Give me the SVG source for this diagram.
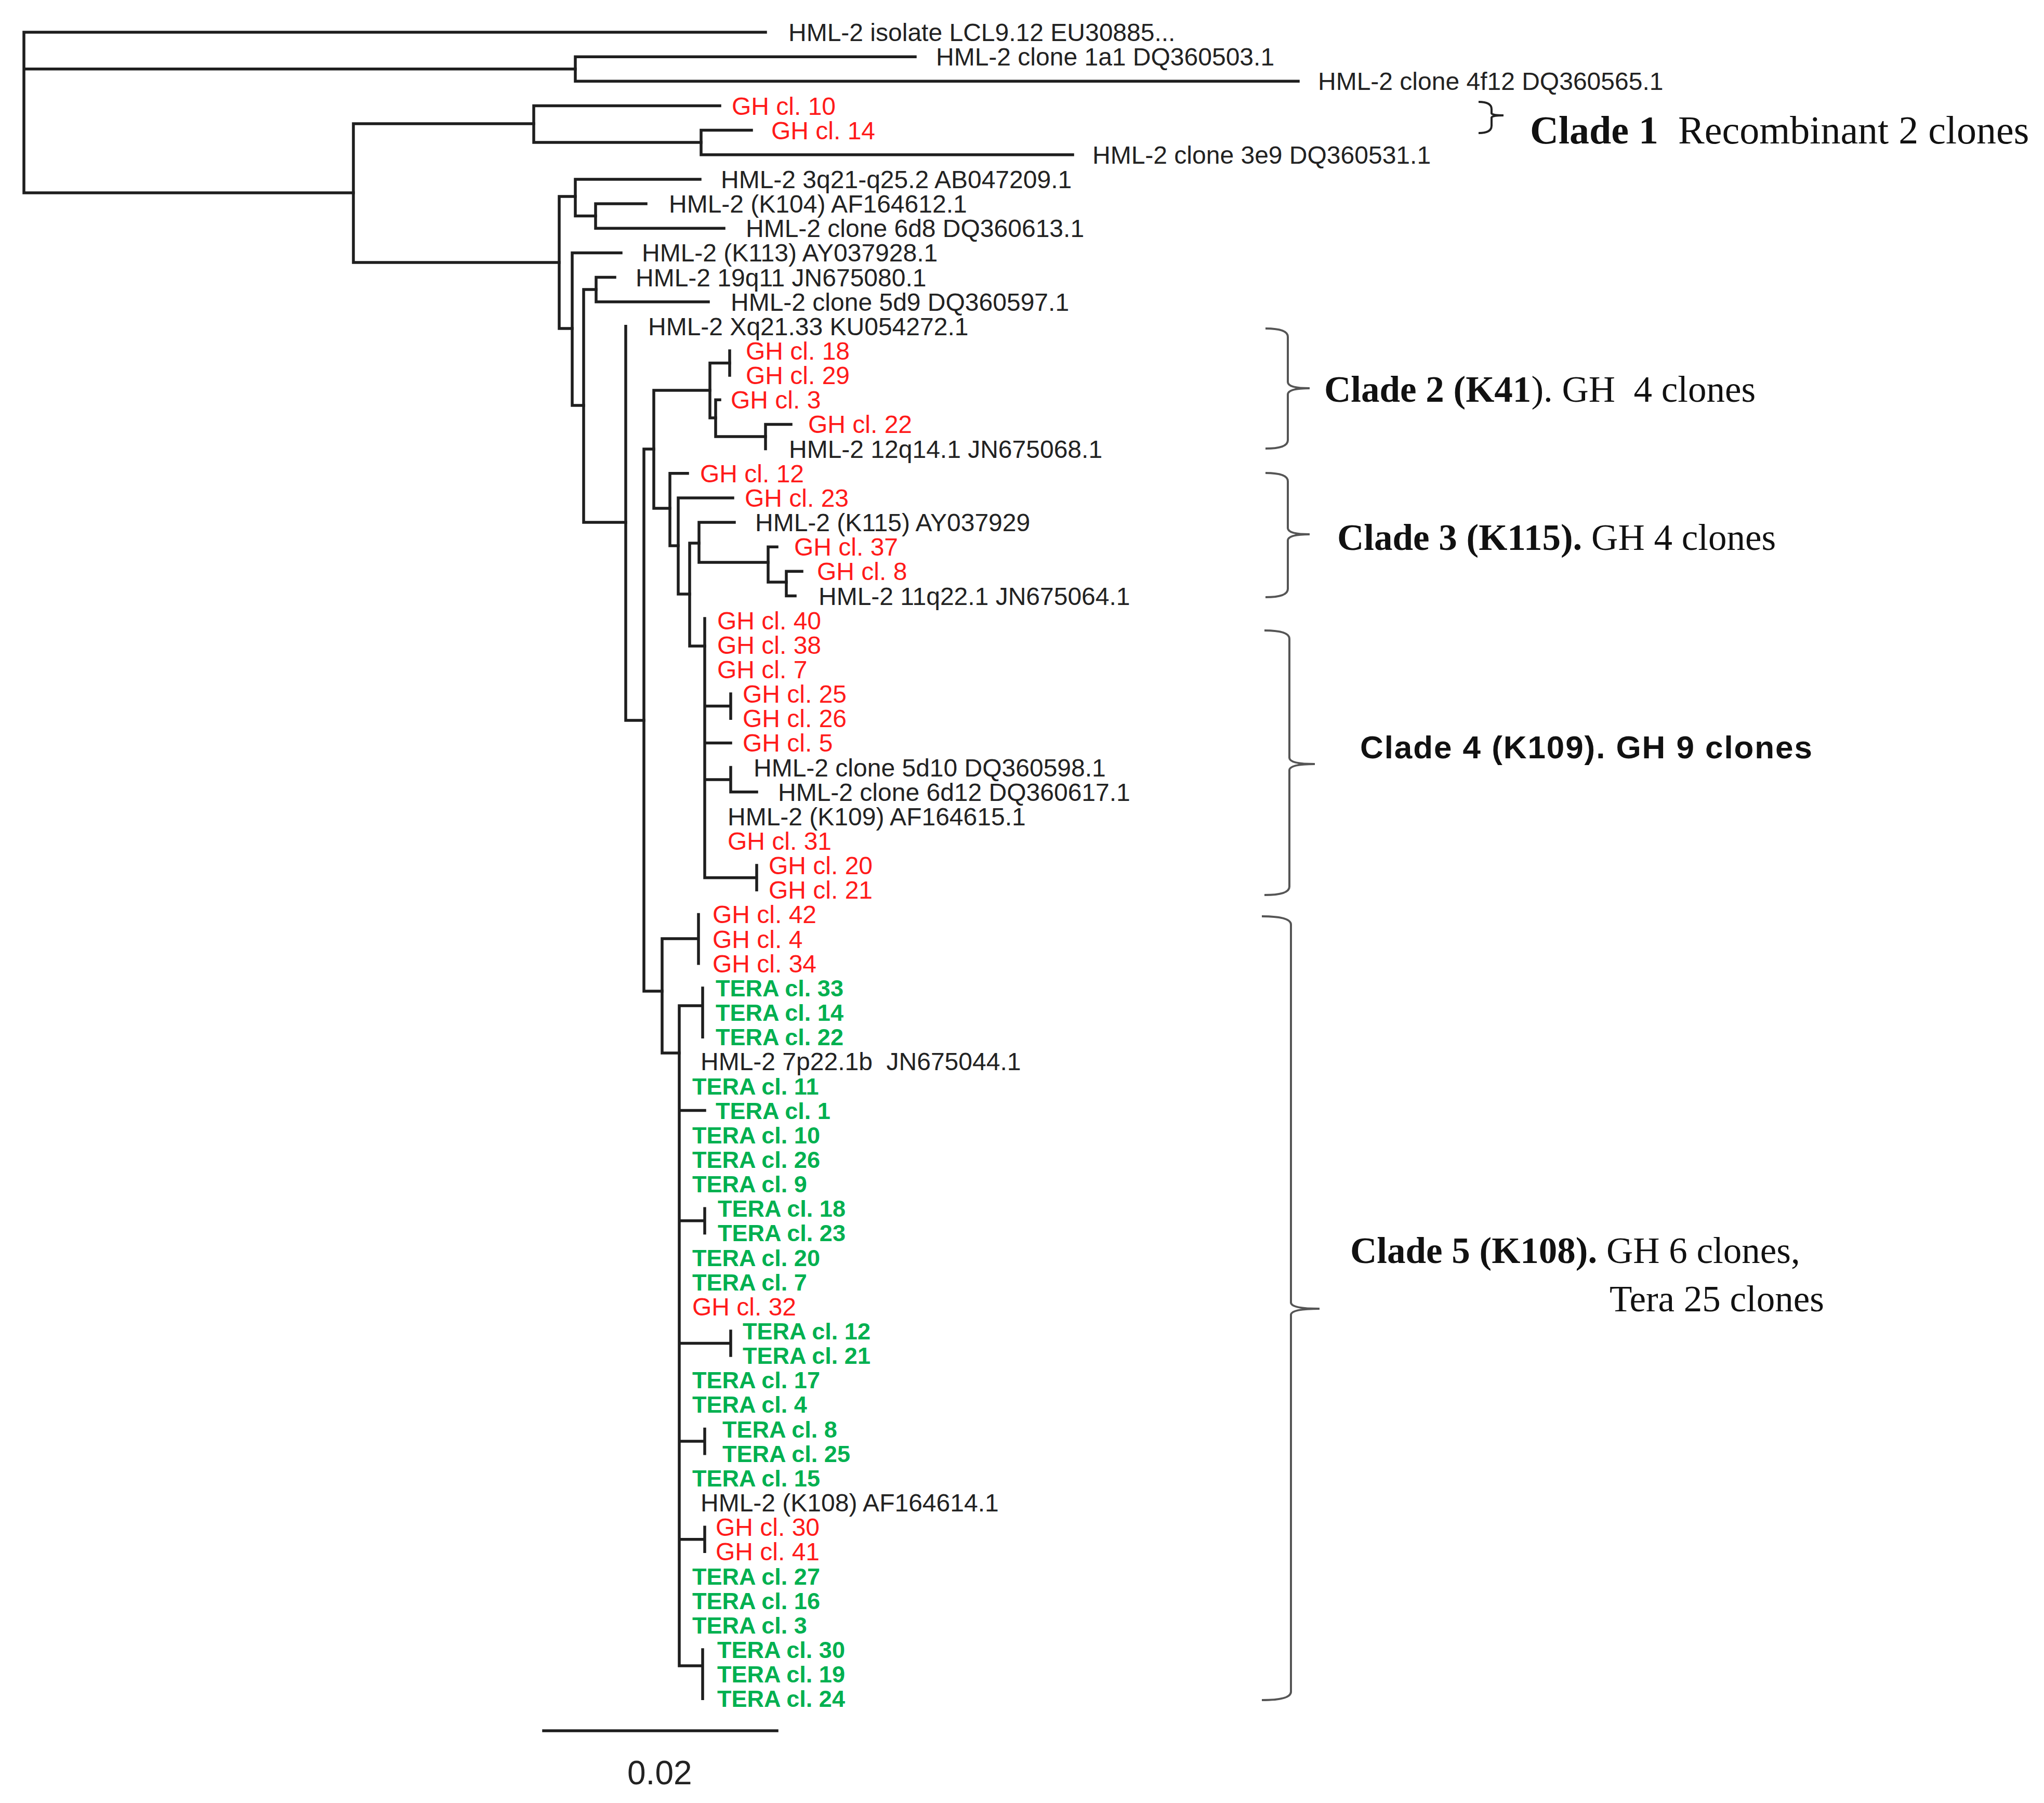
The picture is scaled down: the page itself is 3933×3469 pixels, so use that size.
<svg xmlns="http://www.w3.org/2000/svg" width="3933" height="3469" viewBox="0 0 3933 3469">
<style>
.t{fill:none;stroke:#1e1e1e;stroke-width:5.5;stroke-linecap:square}
.br{fill:none;stroke:#555;stroke-width:4}
.k{font-family:"Liberation Sans",Arial,sans-serif;font-size:48px;fill:#222}
.r{font-family:"Liberation Sans",Arial,sans-serif;font-size:48px;fill:#ff1a1a}
.g{font-family:"Liberation Sans",Arial,sans-serif;font-size:45px;font-weight:bold;fill:#00b050}
.c{font-family:"Liberation Serif","Times New Roman",serif;font-size:71px;fill:#111}
.b{font-weight:bold}
</style>
<rect width="3933" height="3469" fill="#fff"/>
<g id="connectors" class="t">
<path d="M46 62V371M46 62H1473M46 132.7H1107M46 371H680"/>
<path d="M1107 109.2V156.3M1107 109.2H1761M1107 156.3H2498"/>
<path d="M680 238V505M680 238H1027M680 505H1076"/>
<path d="M1027 203.5V274M1027 203.5H1385M1027 274H1349"/>
<path d="M1349 250.6V297.8M1349 250.6H1446M1349 297.8H2064"/>
<path d="M1076 378V632M1076 378H1107M1076 632H1101"/>
<path d="M1107 344.9V415.6M1107 344.9H1347M1107 415.6H1146"/>
<path d="M1146 392.1V439.2M1146 392.1H1243M1146 439.2H1393"/>
<path d="M1101 486.4V780M1101 486.4H1195M1101 780H1123"/>
<path d="M1123 557V1005M1123 557H1147M1123 1005H1204"/>
<path d="M1147 533.5V580.7M1147 533.5H1183M1147 580.7H1363"/>
<path d="M1204 627.8V1386M1204 1386H1239"/>
<path d="M1239 864V1907M1239 864H1258M1239 1907H1274"/>
<path d="M1258 751V978M1258 751H1366M1258 978H1289"/>
<path d="M1366 698.5V804M1366 698.5H1404M1366 804H1377"/>
<path d="M1404 675V722.1"/>
<path d="M1377 769.3V840M1377 769.3H1385M1377 840H1473"/>
<path d="M1473 816.4V863.6M1473 816.4H1522"/>
<path d="M1289 910.7V1050M1289 910.7H1323M1289 1050H1305"/>
<path d="M1305 957.9V1143M1305 957.9H1410M1305 1143H1327"/>
<path d="M1327 1045V1243M1327 1045H1345M1327 1243H1356"/>
<path d="M1345 1005V1082M1345 1005H1413M1345 1082H1478"/>
<path d="M1478 1052.2V1120M1478 1052.2H1495M1478 1120H1513"/>
<path d="M1513 1099.3V1146.5M1513 1099.3H1543M1513 1146.5H1530"/>
<path d="M1356 1190V1688.7M1356 1358.6H1406M1406 1335.1V1382.2M1356 1429.4H1406M1356 1500H1406M1406 1476.5V1523.7M1406 1523.7H1456M1356 1688.7H1456M1456 1665.1V1712.3"/>
<path d="M1274 1806V2026M1274 1806H1344M1274 2026H1307M1344 1759.4V1853.7"/>
<path d="M1307 1935V3205M1307 1935H1352M1352 1900.9V1995.2M1307 2136.6H1356M1307 2348.8H1356M1356 2325.2V2372.4M1307 2584.5H1406M1406 2561V2608.1M1307 2773H1356M1356 2749.6V2796.7M1307 2961.7H1356M1356 2938.2V2985.3M1307 3205H1352M1352 3173.9V3268.2"/>
</g>
<g id="scale-bar">
<path class="t" d="M1046 3330H1495" stroke-width="6"/>
<text x="1207" y="3433" style="font-family:'Liberation Sans',Arial,sans-serif;font-size:64px;fill:#222">0.02</text>
</g>
<g id="leaves">
<g id="n1"><text class="k" x="1517" y="79">HML-2 isolate LCL9.12 EU30885...</text></g>
<g id="n2"><text class="k" x="1801" y="126">HML-2 clone 1a1 DQ360503.1</text></g>
<g id="n3"><text class="k" x="2536" y="173">HML-2 clone 4f12 DQ360565.1</text></g>
<g id="n4"><text class="r" x="1408" y="221">GH cl. 10</text></g>
<g id="n5"><text class="r" x="1484" y="268">GH cl. 14</text></g>
<g id="n6"><text class="k" x="2102" y="315">HML-2 clone 3e9 DQ360531.1</text></g>
<g id="n7"><text class="k" x="1387" y="362">HML-2 3q21-q25.2 AB047209.1</text></g>
<g id="n8"><text class="k" x="1287" y="409">HML-2 (K104) AF164612.1</text></g>
<g id="n9"><text class="k" x="1435" y="456">HML-2 clone 6d8 DQ360613.1</text></g>
<g id="n10"><text class="k" x="1235" y="503">HML-2 (K113) AY037928.1</text></g>
<g id="n11"><text class="k" x="1223" y="551">HML-2 19q11 JN675080.1</text></g>
<g id="n12"><text class="k" x="1406" y="598">HML-2 clone 5d9 DQ360597.1</text></g>
<g id="n13"><text class="k" x="1247" y="645">HML-2 Xq21.33 KU054272.1</text></g>
<g id="n14"><text class="r" x="1435" y="692">GH cl. 18</text></g>
<g id="n15"><text class="r" x="1435" y="739">GH cl. 29</text></g>
<g id="n16"><text class="r" x="1406" y="786">GH cl. 3</text></g>
<g id="n17"><text class="r" x="1555" y="833">GH cl. 22</text></g>
<g id="n18"><text class="k" x="1518" y="881">HML-2 12q14.1 JN675068.1</text></g>
<g id="n19"><text class="r" x="1347" y="928">GH cl. 12</text></g>
<g id="n20"><text class="r" x="1433" y="975">GH cl. 23</text></g>
<g id="n21"><text class="k" x="1453" y="1022">HML-2 (K115) AY037929</text></g>
<g id="n22"><text class="r" x="1528" y="1069">GH cl. 37</text></g>
<g id="n23"><text class="r" x="1572" y="1116">GH cl. 8</text></g>
<g id="n24"><text class="k" x="1575" y="1164">HML-2 11q22.1 JN675064.1</text></g>
<g id="n25"><text class="r" x="1380" y="1211">GH cl. 40</text></g>
<g id="n26"><text class="r" x="1380" y="1258">GH cl. 38</text></g>
<g id="n27"><text class="r" x="1380" y="1305">GH cl. 7</text></g>
<g id="n28"><text class="r" x="1429" y="1352">GH cl. 25</text></g>
<g id="n29"><text class="r" x="1429" y="1399">GH cl. 26</text></g>
<g id="n30"><text class="r" x="1429" y="1446">GH cl. 5</text></g>
<g id="n31"><text class="k" x="1450" y="1494">HML-2 clone 5d10 DQ360598.1</text></g>
<g id="n32"><text class="k" x="1497" y="1541">HML-2 clone 6d12 DQ360617.1</text></g>
<g id="n33"><text class="k" x="1400" y="1588">HML-2 (K109) AF164615.1</text></g>
<g id="n34"><text class="r" x="1400" y="1635">GH cl. 31</text></g>
<g id="n35"><text class="r" x="1479" y="1682">GH cl. 20</text></g>
<g id="n36"><text class="r" x="1479" y="1729">GH cl. 21</text></g>
<g id="n37"><text class="r" x="1371" y="1776">GH cl. 42</text></g>
<g id="n38"><text class="r" x="1371" y="1824">GH cl. 4</text></g>
<g id="n39"><text class="r" x="1371" y="1871">GH cl. 34</text></g>
<g id="n40"><text class="g" x="1377" y="1917">TERA cl. 33</text></g>
<g id="n41"><text class="g" x="1377" y="1964">TERA cl. 14</text></g>
<g id="n42"><text class="g" x="1377" y="2011">TERA cl. 22</text></g>
<g id="n43"><text class="k" x="1348" y="2059" xml:space="preserve">HML-2 7p22.1b  JN675044.1</text></g>
<g id="n44"><text class="g" x="1332" y="2106">TERA cl. 11</text></g>
<g id="n45"><text class="g" x="1377" y="2153">TERA cl. 1</text></g>
<g id="n46"><text class="g" x="1332" y="2200">TERA cl. 10</text></g>
<g id="n47"><text class="g" x="1332" y="2247">TERA cl. 26</text></g>
<g id="n48"><text class="g" x="1332" y="2294">TERA cl. 9</text></g>
<g id="n49"><text class="g" x="1381" y="2341">TERA cl. 18</text></g>
<g id="n50"><text class="g" x="1381" y="2388">TERA cl. 23</text></g>
<g id="n51"><text class="g" x="1332" y="2436">TERA cl. 20</text></g>
<g id="n52"><text class="g" x="1332" y="2483">TERA cl. 7</text></g>
<g id="n53"><text class="r" x="1332" y="2531">GH cl. 32</text></g>
<g id="n54"><text class="g" x="1429" y="2577">TERA cl. 12</text></g>
<g id="n55"><text class="g" x="1429" y="2624">TERA cl. 21</text></g>
<g id="n56"><text class="g" x="1332" y="2671">TERA cl. 17</text></g>
<g id="n57"><text class="g" x="1332" y="2718">TERA cl. 4</text></g>
<g id="n58"><text class="g" x="1390" y="2766">TERA cl. 8</text></g>
<g id="n59"><text class="g" x="1390" y="2813">TERA cl. 25</text></g>
<g id="n60"><text class="g" x="1332" y="2860">TERA cl. 15</text></g>
<g id="n61"><text class="k" x="1348" y="2908">HML-2 (K108) AF164614.1</text></g>
<g id="n62"><text class="r" x="1377" y="2955">GH cl. 30</text></g>
<g id="n63"><text class="r" x="1377" y="3002">GH cl. 41</text></g>
<g id="n64"><text class="g" x="1332" y="3049">TERA cl. 27</text></g>
<g id="n65"><text class="g" x="1332" y="3096">TERA cl. 16</text></g>
<g id="n66"><text class="g" x="1332" y="3143">TERA cl. 3</text></g>
<g id="n67"><text class="g" x="1380" y="3190">TERA cl. 30</text></g>
<g id="n68"><text class="g" x="1380" y="3237">TERA cl. 19</text></g>
<g id="n69"><text class="g" x="1380" y="3284">TERA cl. 24</text></g>
</g>
<g id="clade1">
<path d="M2845 196Q2870 196 2870 210V218Q2872 222 2893 222Q2872 222 2870 226V242Q2870 256 2845 256" fill="none" stroke="#222" stroke-width="4"/>
<text class="c" x="2944" y="276" style="font-size:76px" xml:space="preserve"><tspan class="b">Clade 1</tspan>  Recombinant 2 clones</text>
</g>
<g id="clade2">
<path class="br" d="M2435 632Q2478 632 2478 648V735Q2478 747 2520 747Q2478 747 2478 759V847Q2478 863 2435 863"/>
<text class="c" x="2548" y="773" xml:space="preserve"><tspan class="b">Clade 2 (K41</tspan>). GH  4 clones</text>
</g>
<g id="clade3">
<path class="br" d="M2435 910Q2478 910 2478 926V1016Q2478 1028 2520 1028Q2478 1028 2478 1040V1133Q2478 1149 2435 1149"/>
<text class="c" x="2573" y="1058"><tspan class="b">Clade 3 (K115).</tspan> GH 4 clones</text>
</g>
<g id="clade4">
<path class="br" d="M2433 1213Q2481 1213 2481 1229V1458Q2481 1470 2530 1470Q2481 1470 2481 1482V1706Q2481 1722 2433 1722"/>
<text x="2617" y="1459" textLength="870" lengthAdjust="spacing" style="font-family:'Liberation Sans',Arial,sans-serif;font-size:62px;font-weight:bold;fill:#111">Clade 4 (K109). GH 9 clones</text>
</g>
<g id="clade5">
<path class="br" d="M2428 1763Q2484 1763 2484 1779V2506Q2484 2518 2539 2518Q2484 2518 2484 2530V3255Q2484 3271 2428 3271"/>
<text class="c" x="2598" y="2430"><tspan class="b">Clade 5 (K108).</tspan> GH 6 clones,</text>
<text class="c" x="3097" y="2523">Tera 25 clones</text>
</g>
</svg>
